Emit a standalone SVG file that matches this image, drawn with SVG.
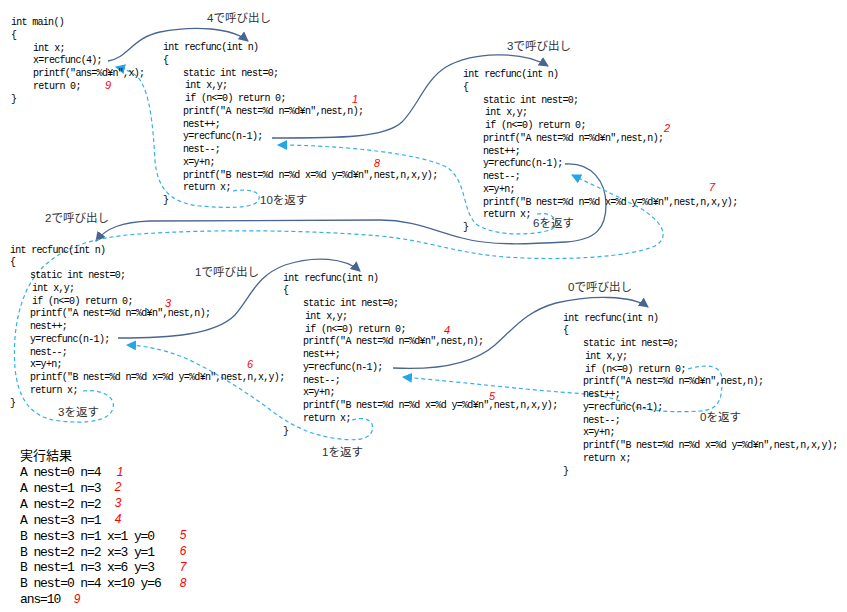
<svg xmlns="http://www.w3.org/2000/svg" width="847" height="612" viewBox="0 0 847 612">
<style>
.c{font-family:"Liberation Mono","Noto Sans CJK JP",monospace;font-size:10px;letter-spacing:-0.7px;fill:#000}
.r{font-family:"Liberation Mono","Noto Sans CJK JP",monospace;font-size:13px;letter-spacing:-1.1px;fill:#000}
.h{font-family:"Noto Sans CJK JP",sans-serif;font-size:13px;fill:#000}
.n{font-family:"Liberation Sans",sans-serif;font-style:italic;font-size:12px;fill:#ff0000;text-anchor:middle}
.m{font-family:"Liberation Sans",sans-serif;font-style:italic;font-size:11px;fill:#ff0000;text-anchor:middle}
.lb{font-family:"Liberation Sans","Noto Sans CJK JP",sans-serif;font-size:11.5px;fill:#333}
.call{fill:none;stroke:#4a6591;stroke-width:1.3;marker-end:url(#ah)}
.ret{fill:none;stroke:#33b0e8;stroke-width:1.2;stroke-dasharray:4 3;marker-end:url(#ahb)}
</style>
<defs>
<marker id="ah" viewBox="0 0 10 10" refX="9" refY="5" markerWidth="10" markerHeight="10" markerUnits="userSpaceOnUse" orient="auto"><path d="M0,0 L10,5 L0,10 z" fill="#4a6591"/></marker>
<marker id="ahb" viewBox="0 0 10 10" refX="9" refY="5" markerWidth="10" markerHeight="10" markerUnits="userSpaceOnUse" orient="auto"><path d="M0,0 L10,5 L0,10 z" fill="#22a6e6"/></marker>
</defs>
<rect width="847" height="612" fill="#fff"/>

<g id="connectors">
<path class="call" d="M108,61 C128,58 132,38 160,32 C195,25 232,28 248,41"/>
<path class="ret" d="M233,191 C252,188 263,193 258,201 C252,209 225,208 200,206 C170,203 157,188 155,160 C153,125 150,95 140,80 C135,73 128,70 116,67"/>
<path class="call" d="M272,138 C340,138 385,138 402,122 C418,106 425,80 446,67 C472,52 522,50 548,66"/>
<path class="ret" d="M537,214 C556,211 561,225 550,230 C532,236 492,236 476,224 C462,210 467,182 448,168 C420,152 330,145 278,145"/>
<path class="call" d="M565,164 C592,162 606,182 606,205 C606,228 596,240 566,242 C530,244 490,246 462,238 C432,230 412,220 380,220 L150,221 C122,222 106,228 96,241"/>
<path class="ret" d="M83,391 C100,389 116,396 113,408 C110,421 88,424 60,421 C30,418 18,398 15,368 C12,330 20,290 42,268 C62,248 92,237 140,234 C210,229 310,230 380,236 C430,241 455,253 505,257 C565,261 630,257 655,246 C672,236 660,220 640,208 C615,195 595,186 572,175"/>
<path class="call" d="M118,338 C170,338 215,335 235,315 C252,295 256,276 285,265 C315,255 345,258 360,271"/>
<path class="ret" d="M352,420 C366,416 375,421 372,431 C369,441 352,441 333,438 C308,434 288,424 268,408 C240,388 212,370 185,358 C165,350 148,346 127,345"/>
<path class="call" d="M393,368 C432,370 472,365 495,345 C515,327 527,311 556,303 C590,295 632,295 648,307"/>
<path class="ret" d="M688,369 C705,364 722,364 722,380 C722,398 720,410 700,411 C675,413 640,411 625,403 C610,396 590,394 560,392 C520,389 460,382 403,377"/>
<text class="lb" x="207" y="22">4で呼び出し</text>
<text class="lb" x="507" y="50">3で呼び出し</text>
<text class="lb" x="45" y="222">2で呼び出し</text>
<text class="lb" x="195" y="276">1で呼び出し</text>
<text class="lb" x="568" y="291">0で呼び出し</text>
<text class="lb" x="260" y="204">10を返す</text>
<text class="lb" x="533" y="227">6を返す</text>
<text class="lb" x="58" y="416">3を返す</text>
<text class="lb" x="322" y="456">1を返す</text>
<text class="lb" x="700" y="421">0を返す</text>
</g>

<g id="main" transform="translate(11,25.2)">
<text class="c" x="0" y="0">int main()</text>
<text class="c" x="0" y="12.75">{</text>
<text class="c" x="22" y="25.5">int x;</text>
<text class="c" x="22" y="38.25">x=recfunc(4);</text>
<text class="c" x="22" y="51">printf("ans=%d¥n",x);</text>
<text class="c" x="22" y="63.75">return 0;</text>
<text class="c" x="0" y="76.5">}</text>
</g>

<g id="recfunc4" transform="translate(163,50)">
<text class="c" x="0" y="0">int recfunc(int n)</text>
<text class="c" x="0" y="12.75">{</text>
<text class="c" x="20" y="25.5">static int nest=0;</text>
<text class="c" x="22" y="38.25">int x,y;</text>
<text class="c" x="22" y="51">if (n&lt;=0) return 0;</text>
<text class="c" x="20" y="63.75">printf("A nest=%d n=%d¥n",nest,n);</text>
<text class="c" x="20" y="76.5">nest++;</text>
<text class="c" x="20" y="89.25">y=recfunc(n-1);</text>
<text class="c" x="20" y="102">nest--;</text>
<text class="c" x="20" y="114.75">x=y+n;</text>
<text class="c" x="20" y="127.5">printf("B nest=%d n=%d x=%d y=%d¥n",nest,n,x,y);</text>
<text class="c" x="20" y="140.25">return x;</text>
<text class="c" x="0" y="153">}</text>
</g>

<g id="recfunc3" transform="translate(463,77)">
<text class="c" x="0" y="0">int recfunc(int n)</text>
<text class="c" x="0" y="12.75">{</text>
<text class="c" x="20" y="25.5">static int nest=0;</text>
<text class="c" x="22" y="38.25">int x,y;</text>
<text class="c" x="22" y="51">if (n&lt;=0) return 0;</text>
<text class="c" x="20" y="63.75">printf("A nest=%d n=%d¥n",nest,n);</text>
<text class="c" x="20" y="76.5">nest++;</text>
<text class="c" x="20" y="89.25">y=recfunc(n-1);</text>
<text class="c" x="20" y="102">nest--;</text>
<text class="c" x="20" y="114.75">x=y+n;</text>
<text class="c" x="20" y="127.5">printf("B nest=%d n=%d x=%d y=%d¥n",nest,n,x,y);</text>
<text class="c" x="20" y="140.25">return x;</text>
<text class="c" x="0" y="153">}</text>
</g>

<g id="recfunc2" transform="translate(10,252.5)">
<text class="c" x="0" y="0">int recfunc(int n)</text>
<text class="c" x="0" y="12.75">{</text>
<text class="c" x="20" y="25.5">static int nest=0;</text>
<text class="c" x="22" y="38.25">int x,y;</text>
<text class="c" x="22" y="51">if (n&lt;=0) return 0;</text>
<text class="c" x="20" y="63.75">printf("A nest=%d n=%d¥n",nest,n);</text>
<text class="c" x="20" y="76.5">nest++;</text>
<text class="c" x="20" y="89.25">y=recfunc(n-1);</text>
<text class="c" x="20" y="102">nest--;</text>
<text class="c" x="20" y="114.75">x=y+n;</text>
<text class="c" x="20" y="127.5">printf("B nest=%d n=%d x=%d y=%d¥n",nest,n,x,y);</text>
<text class="c" x="20" y="140.25">return x;</text>
<text class="c" x="0" y="153">}</text>
</g>

<g id="recfunc1" transform="translate(283,280.5)">
<text class="c" x="0" y="0">int recfunc(int n)</text>
<text class="c" x="0" y="12.75">{</text>
<text class="c" x="20" y="25.5">static int nest=0;</text>
<text class="c" x="22" y="38.25">int x,y;</text>
<text class="c" x="22" y="51">if (n&lt;=0) return 0;</text>
<text class="c" x="20" y="63.75">printf("A nest=%d n=%d¥n",nest,n);</text>
<text class="c" x="20" y="76.5">nest++;</text>
<text class="c" x="20" y="89.25">y=recfunc(n-1);</text>
<text class="c" x="20" y="102">nest--;</text>
<text class="c" x="20" y="114.75">x=y+n;</text>
<text class="c" x="20" y="127.5">printf("B nest=%d n=%d x=%d y=%d¥n",nest,n,x,y);</text>
<text class="c" x="20" y="140.25">return x;</text>
<text class="c" x="0" y="153">}</text>
</g>

<g id="recfunc0" transform="translate(563,320.5)">
<text class="c" x="0" y="0">int recfunc(int n)</text>
<text class="c" x="0" y="12.75">{</text>
<text class="c" x="20" y="25.5">static int nest=0;</text>
<text class="c" x="22" y="38.25">int x,y;</text>
<text class="c" x="22" y="51">if (n&lt;=0) return 0;</text>
<text class="c" x="20" y="63.75">printf("A nest=%d n=%d¥n",nest,n);</text>
<text class="c" x="20" y="76.5">nest++;</text>
<text class="c" x="20" y="89.25">y=recfunc(n-1);</text>
<text class="c" x="20" y="102">nest--;</text>
<text class="c" x="20" y="114.75">x=y+n;</text>
<text class="c" x="20" y="127.5">printf("B nest=%d n=%d x=%d y=%d¥n",nest,n,x,y);</text>
<text class="c" x="20" y="140.25">return x;</text>
<text class="c" x="0" y="153">}</text>
</g>

<g id="order-marks">
<text class="m" x="108" y="89">9</text>
<text class="m" x="355" y="103">1</text>
<text class="m" x="377" y="167">8</text>
<text class="m" x="667" y="132">2</text>
<text class="m" x="712" y="191">7</text>
<text class="m" x="168" y="307">3</text>
<text class="m" x="250" y="368">6</text>
<text class="m" x="447" y="334">4</text>
<text class="m" x="492" y="400">5</text>
</g>

<g id="results">
<text class="h" x="20" y="459.5">実行結果</text>
<text class="r" x="20" y="476">A nest=0 n=4</text>
<text class="r" x="20" y="491.9">A nest=1 n=3</text>
<text class="r" x="20" y="507.8">A nest=2 n=2</text>
<text class="r" x="20" y="523.7">A nest=3 n=1</text>
<text class="r" x="20" y="539.6">B nest=3 n=1 x=1 y=0</text>
<text class="r" x="20" y="555.5">B nest=2 n=2 x=3 y=1</text>
<text class="r" x="20" y="571.4">B nest=1 n=3 x=6 y=3</text>
<text class="r" x="20" y="587.3">B nest=0 n=4 x=10 y=6</text>
<text class="r" x="20" y="603.2">ans=10</text>
<text class="n" x="120" y="475.5">1</text>
<text class="n" x="118" y="491.4">2</text>
<text class="n" x="118" y="507.3">3</text>
<text class="n" x="118" y="523.2">4</text>
<text class="n" x="183" y="539.1">5</text>
<text class="n" x="183" y="555">6</text>
<text class="n" x="183" y="570.9">7</text>
<text class="n" x="183" y="586.8">8</text>
<text class="n" x="77" y="602.7">9</text>
</g>
</svg>
